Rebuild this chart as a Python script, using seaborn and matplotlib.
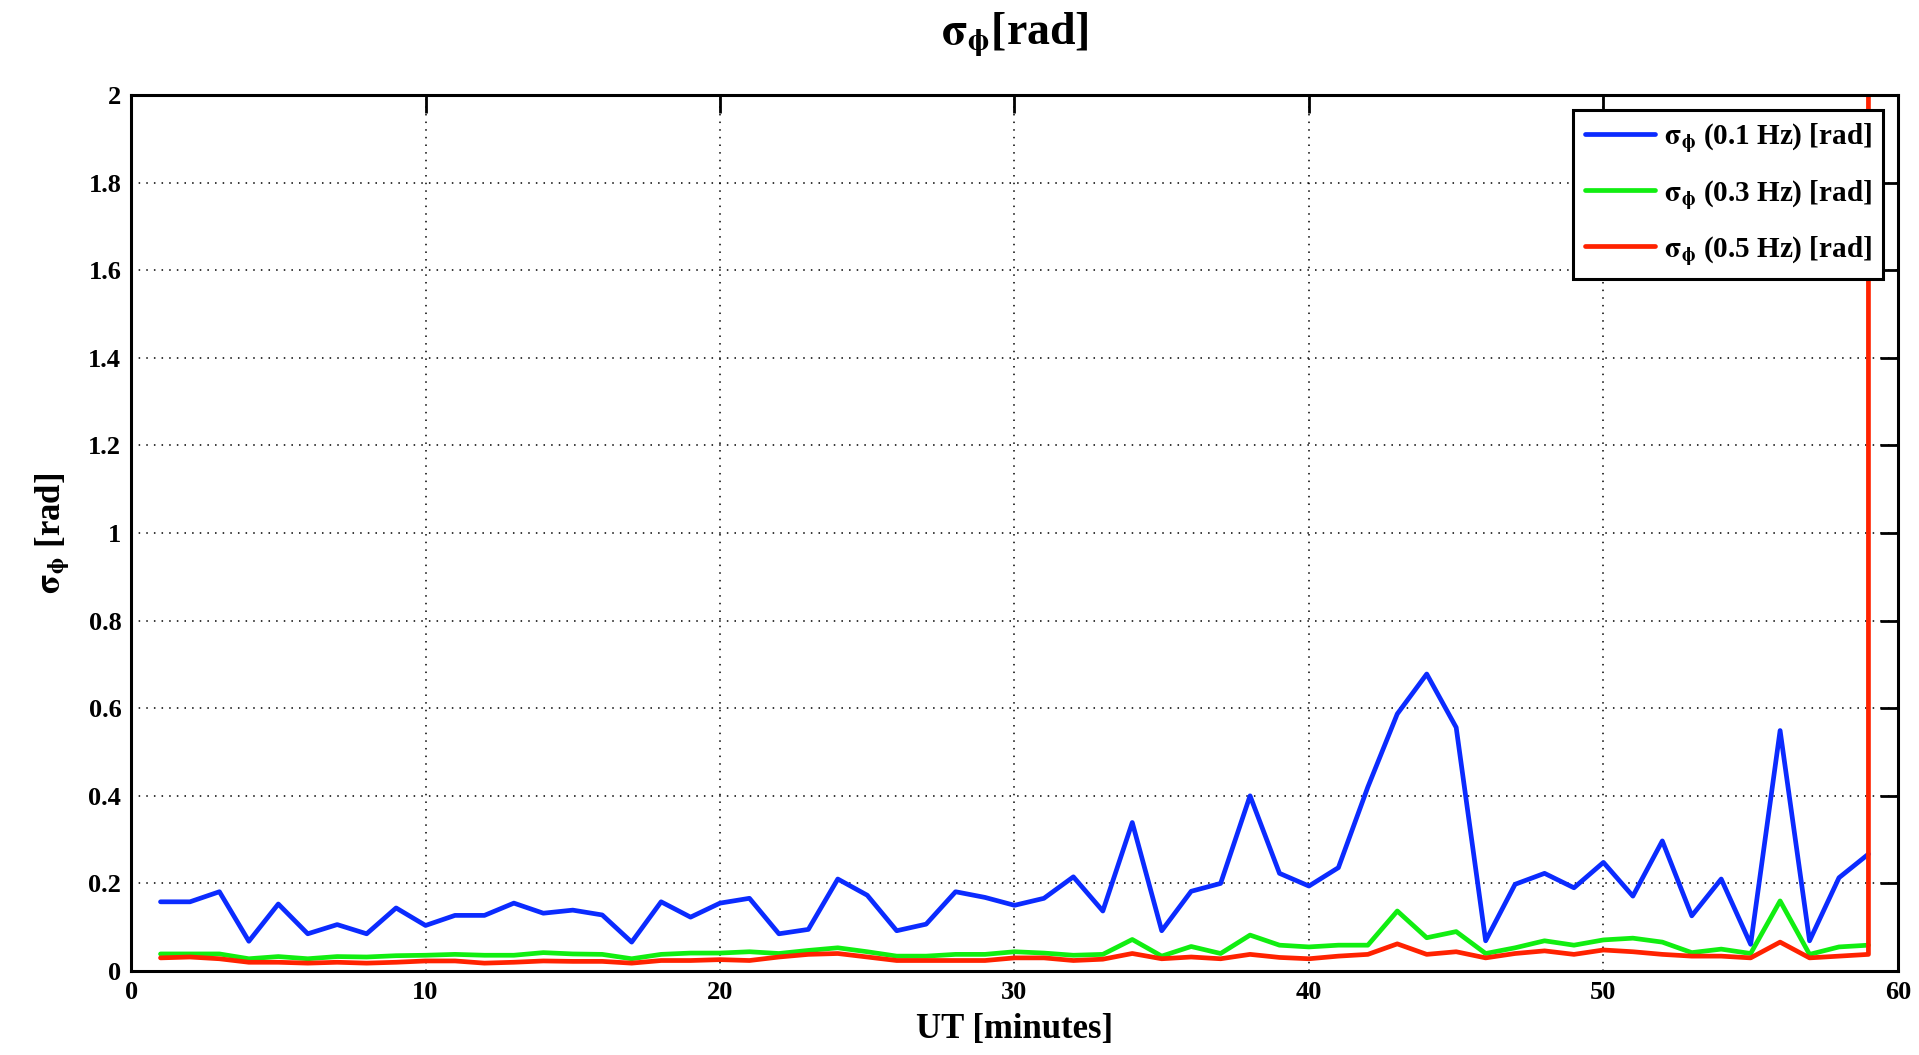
import numpy as np
import pandas as pd
import matplotlib
matplotlib.use("Agg")
import matplotlib.pyplot as plt
import seaborn as sns

minutes = list(range(1, 60))
sigma_01hz = [0.158, 0.158, 0.181, 0.068, 0.153, 0.085, 0.106, 0.085, 0.144, 0.104,
              0.127, 0.127, 0.155, 0.132, 0.139, 0.128, 0.066, 0.158, 0.123, 0.155,
              0.166, 0.085, 0.095, 0.210, 0.173, 0.092, 0.107, 0.181, 0.168, 0.150,
              0.166, 0.215, 0.137, 0.339, 0.092, 0.182, 0.200, 0.400, 0.223, 0.194,
              0.236, 0.420, 0.587, 0.678, 0.556, 0.069, 0.198, 0.223, 0.190, 0.248,
              0.171, 0.297, 0.126, 0.210, 0.061, 0.549, 0.069, 0.213, 0.267]
sigma_03hz = [0.039, 0.039, 0.039, 0.028, 0.033, 0.028, 0.033, 0.032, 0.035, 0.036,
              0.038, 0.036, 0.036, 0.042, 0.039, 0.038, 0.028, 0.038, 0.041, 0.041,
              0.044, 0.040, 0.047, 0.053, 0.044, 0.034, 0.034, 0.038, 0.038, 0.044,
              0.041, 0.036, 0.038, 0.072, 0.034, 0.056, 0.040, 0.082, 0.059, 0.055,
              0.059, 0.059, 0.137, 0.076, 0.090, 0.040, 0.053, 0.069, 0.059, 0.071,
              0.075, 0.066, 0.042, 0.050, 0.040, 0.160, 0.038, 0.055, 0.059]
sigma_05hz = [0.030, 0.032, 0.028, 0.020, 0.020, 0.018, 0.020, 0.018, 0.020, 0.023,
              0.023, 0.018, 0.020, 0.023, 0.022, 0.022, 0.018, 0.024, 0.024, 0.026,
              0.024, 0.032, 0.038, 0.040, 0.032, 0.024, 0.024, 0.024, 0.024, 0.030,
              0.030, 0.024, 0.027, 0.040, 0.028, 0.032, 0.028, 0.038, 0.031, 0.028,
              0.034, 0.038, 0.062, 0.038, 0.044, 0.030, 0.040, 0.046, 0.038, 0.048,
              0.044, 0.038, 0.034, 0.034, 0.030, 0.066, 0.030, 0.034, 0.038]
# final red sample at minute 59 jumps far above the axis limit
red_spike_minute = 59
red_spike_value = 3.0

sig = r"$\mathrm{\sigma}_{\mathrm{\phi}}$"
series_labels = [sig + " (0.1 Hz) [rad]",
                 sig + " (0.3 Hz) [rad]",
                 sig + " (0.5 Hz) [rad]"]
colors = ["#0b2bff", "#11ee11", "#ff2200"]

x_ticks = [0, 10, 20, 30, 40, 50, 60]
y_ticks = [0, 0.2, 0.4, 0.6, 0.8, 1.0, 1.2, 1.4, 1.6, 1.8, 2.0]
y_tick_labels = ["0", "0.2", "0.4", "0.6", "0.8", "1", "1.2", "1.4", "1.6", "1.8", "2"]

rows = []
for m, v in zip(minutes, sigma_01hz):
    rows.append((m, v, series_labels[0]))
for m, v in zip(minutes, sigma_03hz):
    rows.append((m, v, series_labels[1]))
for m, v in zip(minutes, sigma_05hz):
    rows.append((m, v, series_labels[2]))
rows.append((red_spike_minute, red_spike_value, series_labels[2]))
df = pd.DataFrame(rows, columns=["UT", "sigma", "series"])

sns.set_style("white")
plt.rcParams["font.family"] = ["Liberation Serif", "DejaVu Serif"]
plt.rcParams["font.weight"] = "bold"
plt.rcParams["mathtext.fontset"] = "stix"
plt.rcParams["text.color"] = "black"
plt.rcParams["axes.labelcolor"] = "black"
plt.rcParams["xtick.color"] = "black"
plt.rcParams["ytick.color"] = "black"

fig = plt.figure(figsize=(19.19, 10.55), dpi=100)
ax = fig.add_axes([0.0683, 0.0796, 0.9207, 0.8304])

for lab, col in zip(series_labels, colors):
    sub = df[df["series"] == lab]
    sns.lineplot(data=sub, x="UT", y="sigma", ax=ax, color=col, linewidth=3.4,
                 label=lab, sort=False, estimator=None)

ax.set_xlim(0, 60)
ax.set_ylim(0, 2)
ax.set_xticks(x_ticks)
ax.set_xticklabels([str(t) for t in x_ticks])
ax.set_yticks(y_ticks)
ax.set_yticklabels(y_tick_labels)
ax.tick_params(direction="in", length=13, width=2.0, top=True, right=True,
               labelsize=19, pad=7)
for lbl in ax.get_xticklabels() + ax.get_yticklabels():
    lbl.set_fontweight("bold")
ax.grid(True, color="black", linestyle=(0, (1, 4)), linewidth=1.1)
for sp in ax.spines.values():
    sp.set_color("black")
    sp.set_linewidth(2.2)

ax.set_xlabel("UT [minutes]", fontsize=25, fontweight="bold", labelpad=7)
ax.set_ylabel(sig + " [rad]", fontsize=25, fontweight="bold", labelpad=12)
ax.set_title(sig + "[rad]", fontsize=33, fontweight="bold", pad=37)

leg = ax.legend(loc="upper right", fontsize=21, frameon=True, fancybox=False,
                edgecolor="black", handlelength=2.4, handletextpad=0.3,
                borderaxespad=0.5, labelspacing=0.8, borderpad=0.4,
                framealpha=1.0)
leg.get_frame().set_linewidth(2.2)
for t in leg.get_texts():
    t.set_fontweight("bold")

fig.savefig("out.png", dpi=100, facecolor="white")
